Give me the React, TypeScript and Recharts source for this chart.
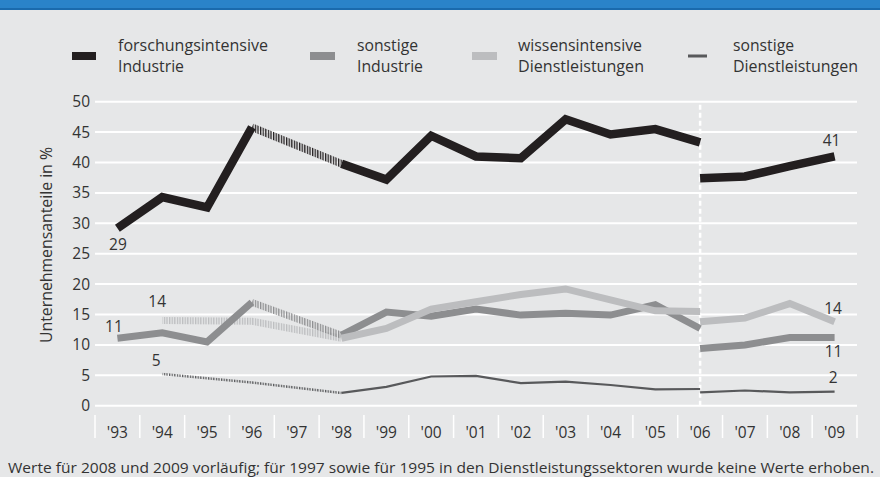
import React, { useEffect } from 'react';
import { LineChart, Line, XAxis, YAxis, CartesianGrid, ReferenceLine, LabelList } from 'recharts';

const years = ["'93", "'94", "'95", "'96", "'97", "'98", "'99", "'00", "'01", "'02", "'03", "'04", "'05", "'06", "'07", "'08", "'09"];
const yTicks = [0, 5, 10, 15, 20, 25, 30, 35, 40, 45, 50];

// values '93–'06 (old survey basis) and '06–'09 (new basis); null = not collected
const forschAlt = [29.2, 34.3, 32.6, 45.8, null, 39.8, 37.2, 44.4, 41.0, 40.7, 47.1, 44.6, 45.5, 43.3];
const forschNeu = [37.4, 37.7, 39.4, 41.0];
const sonstIndAlt = [11.1, 12.0, 10.5, 17.0, null, 11.6, 15.4, 14.7, 15.9, 14.9, 15.2, 14.9, 16.6, 12.7];
const sonstIndNeu = [9.4, 10.0, 11.2, 11.2];
const wissDlAlt = [null, 14.0, null, 13.9, null, 11.1, 12.7, 15.9, 17.1, 18.3, 19.2, 17.4, 15.6, 15.5];
const wissDlNeu = [13.8, 14.4, 16.8, 13.8];
const sonstDlAlt = [null, 5.2, null, 3.8, null, 2.1, 3.1, 4.8, 4.9, 3.7, 3.95, 3.4, 2.7, 2.75];
const sonstDlNeu = [2.2, 2.5, 2.2, 2.3];

const legendLine1 = ['forschungsintensive', 'sonstige', 'wissensintensive', 'sonstige'];
const legendLine2 = ['Industrie', 'Industrie', 'Dienstleistungen', 'Dienstleistungen'];
const footnote = 'Werte für 2008 und 2009 vorläufig; für 1997 sowie für 1995 in den Dienstleistungssektoren wurde keine Werte erhoben.';
const yTitle = 'Unternehmensanteile in %';

const BREAK = 13; // index of '06

const COL_BLACK = '#231f20';
const COL_DARK = '#8d8e90';
const COL_LIGHT = '#bcbdbf';
const COL_THIN = '#58595b';
const BG = '#e6e7e8';
const FONT = '"Open Sans", "Noto Sans", sans-serif';

function hatched(arr: (number | null)[]) {
  const valid = arr.map((v, i) => (v == null ? -1 : i)).filter((i) => i >= 0);
  const first = valid[0];
  const last = valid[valid.length - 1];
  return arr.map((v, i) => {
    if (v == null) return null;
    const prevGap = i - 1 >= first && arr[i - 1] == null;
    const nextGap = i + 1 <= last && arr[i + 1] == null;
    return prevGap || nextGap ? v : null;
  });
}

const series = [
  { key: 'fo', alt: forschAlt, neu: forschNeu },
  { key: 'si', alt: sonstIndAlt, neu: sonstIndNeu },
  { key: 'wd', alt: wissDlAlt, neu: wissDlNeu },
  { key: 'sd', alt: sonstDlAlt, neu: sonstDlNeu },
];

const data = years.map((y, i) => {
  const row: any = { idx: i, year: y };
  series.forEach((s) => {
    const h = hatched(s.alt);
    row[s.key + 'A'] = i <= BREAK ? s.alt[i] : null;
    row[s.key + 'N'] = i >= BREAK ? s.neu[i - BREAK] : null;
    row[s.key + 'H'] = i <= BREAK ? h[i] : null;
  });
  return row;
});

const PLOT_L = 95;
const PLOT_R = 857;
const BAND = (PLOT_R - PLOT_L) / years.length;

const XTick = (props: any) => {
  const { x, payload } = props;
  const i = payload.value;
  return (
    <g>
      <line x1={x - BAND / 2} x2={x - BAND / 2} y1={415} y2={438} stroke="#ffffff" strokeWidth={1.5} />
      {i === years.length - 1 && (
        <line x1={x + BAND / 2} x2={x + BAND / 2} y1={415} y2={438} stroke="#ffffff" strokeWidth={1.5} />
      )}
      <text x={x} y={438} textAnchor="middle" fill="#333333" fontSize={15.5} fontFamily={FONT}>
        {years[i]}
      </text>
    </g>
  );
};

const makeLabel = (showIdx: number, dx: number, dy: number) => (props: any) => {
  const { x, y, value, index } = props;
  if (index !== showIdx || value == null) return null;
  return (
    <text x={x + dx} y={y + dy} textAnchor="middle" fill="#333333" fontSize={15.5} fontFamily={FONT}>
      {Math.round(value)}
    </text>
  );
};

const legendSwatches = [
  { x: 72, w: 24, y: 52, h: 8, c: COL_BLACK, tx: 118, w1: 150, w2: 66 },
  { x: 310, w: 25, y: 52, h: 8, c: COL_DARK, tx: 357, w1: 61, w2: 66 },
  { x: 472, w: 25, y: 52, h: 8, c: COL_LIGHT, tx: 518, w1: 124, w2: 126 },
  { x: 688, w: 19, y: 54.5, h: 3, c: COL_THIN, tx: 733, w1: 61, w2: 125 },
];

export default function App() {
  useEffect(() => {
    document.documentElement.style.background = BG;
    document.body.style.background = BG;
    document.body.style.margin = '0';
    document.body.style.overflow = 'hidden';
  }, []);
  return (
    <div style={{ position: 'fixed', left: 0, top: 0, width: 880, height: 477, background: BG, overflow: 'hidden' }}>
      <svg width={880} height={477} style={{ position: 'absolute', left: 0, top: 0, display: 'block' }}>
        <rect x={0} y={0} width={880} height={8} fill="#2a83c9" />
        <rect x={0} y={8} width={880} height={2} fill="#1a6aad" />
      </svg>
      <div style={{ position: 'absolute', left: 0, top: 0 }}>
        <LineChart
          width={880}
          height={477}
          data={data}
          accessibilityLayer={false}
          style={{ outline: 'none' }}
          margin={{ top: 101.7, right: 23, bottom: 41.3, left: 0 }}
        >
          <defs>
            <pattern id="hBlack" patternUnits="userSpaceOnUse" width="2.6" height="10">
              <rect x="0" y="0" width="1.3" height="10" fill={COL_BLACK} />
            </pattern>
            <pattern id="hDark" patternUnits="userSpaceOnUse" width="2.6" height="10">
              <rect x="0" y="0" width="1.3" height="10" fill={COL_DARK} />
            </pattern>
            <pattern id="hLight" patternUnits="userSpaceOnUse" width="2.6" height="10">
              <rect x="0" y="0" width="1.3" height="10" fill={COL_LIGHT} />
            </pattern>
            <pattern id="hThin" patternUnits="userSpaceOnUse" width="2.6" height="10">
              <rect x="0" y="0" width="1.3" height="10" fill={COL_THIN} />
            </pattern>
          </defs>
          <CartesianGrid vertical={false} stroke="#ffffff" strokeWidth={2} />
          <XAxis
            dataKey="idx"
            type="number"
            domain={[-0.5, years.length - 0.5]}
            ticks={years.map((_, i) => i)}
            interval={0}
            height={30}
            axisLine={false}
            tickLine={false}
            tick={<XTick />}
          />
          <YAxis
            width={95}
            domain={[0, 50]}
            ticks={yTicks}
            axisLine={false}
            tickLine={false}
            tickSize={3}
            tickMargin={2}
            tick={{ fill: '#333333', fontSize: 15.5, fontFamily: FONT }}
          />
          <ReferenceLine x={BREAK} stroke="#ffffff" strokeWidth={2.5} strokeDasharray="5 3" />

          <Line dataKey="wdH" stroke="url(#hLight)" strokeWidth={7} dot={false} connectNulls isAnimationActive={false} strokeLinejoin="miter" strokeLinecap="butt">
            <LabelList dataKey="wdH" content={makeLabel(1, -5, -14)} />
          </Line>
          <Line dataKey="siH" stroke="url(#hDark)" strokeWidth={7} dot={false} connectNulls isAnimationActive={false} strokeLinejoin="miter" strokeLinecap="butt" />
          <Line dataKey="sdH" stroke="url(#hThin)" strokeWidth={2.5} dot={false} connectNulls isAnimationActive={false} strokeLinecap="butt">
            <LabelList dataKey="sdH" content={makeLabel(1, -6, -8)} />
          </Line>
          <Line dataKey="foH" stroke="url(#hBlack)" strokeWidth={7.5} dot={false} connectNulls isAnimationActive={false} strokeLinecap="butt" />

          <Line dataKey="siA" stroke={COL_DARK} strokeWidth={7} dot={false} isAnimationActive={false} strokeLinejoin="miter" strokeLinecap="butt">
            <LabelList dataKey="siA" content={makeLabel(0, -3.5, -6.5)} />
          </Line>
          <Line dataKey="siN" stroke={COL_DARK} strokeWidth={7} dot={false} isAnimationActive={false} strokeLinejoin="miter" strokeLinecap="butt">
            <LabelList dataKey="siN" content={makeLabel(16, -1, 19)} />
          </Line>
          <Line dataKey="wdA" stroke={COL_LIGHT} strokeWidth={7} dot={false} isAnimationActive={false} strokeLinejoin="miter" strokeLinecap="butt" />
          <Line dataKey="wdN" stroke={COL_LIGHT} strokeWidth={7} dot={false} isAnimationActive={false} strokeLinejoin="miter" strokeLinecap="butt">
            <LabelList dataKey="wdN" content={makeLabel(16, -1.5, -8)} />
          </Line>
          <Line dataKey="sdA" stroke={COL_THIN} strokeWidth={2.2} dot={false} isAnimationActive={false} strokeLinejoin="miter" strokeLinecap="butt" />
          <Line dataKey="sdN" stroke={COL_THIN} strokeWidth={2.2} dot={false} isAnimationActive={false} strokeLinejoin="miter" strokeLinecap="butt">
            <LabelList dataKey="sdN" content={makeLabel(16, -1.5, -9)} />
          </Line>
          <Line dataKey="foA" stroke={COL_BLACK} strokeWidth={8.5} dot={false} isAnimationActive={false} strokeLinejoin="miter" strokeLinecap="butt">
            <LabelList dataKey="foA" content={makeLabel(0, 0.5, 22)} />
          </Line>
          <Line dataKey="foN" stroke={COL_BLACK} strokeWidth={8.5} dot={false} isAnimationActive={false} strokeLinejoin="miter" strokeLinecap="butt">
            <LabelList dataKey="foN" content={makeLabel(16, -3, -10)} />
          </Line>
        </LineChart>
      </div>
      <svg width={880} height={477} style={{ position: 'absolute', left: 0, top: 0, pointerEvents: 'none' }}>
        {legendSwatches.map((s, i) => (
          <g key={i}>
            <rect x={s.x} y={s.y} width={s.w} height={s.h} fill={s.c} />
            <text x={s.tx} y={50.5} fill="#333333" fontSize={15.5} fontFamily={FONT} textLength={s.w1} lengthAdjust="spacingAndGlyphs">
              {legendLine1[i]}
            </text>
            <text x={s.tx} y={72} fill="#333333" fontSize={15.5} fontFamily={FONT} textLength={s.w2} lengthAdjust="spacingAndGlyphs">
              {legendLine2[i]}
            </text>
          </g>
        ))}
        <text
          x={51.5}
          y={245}
          transform="rotate(-90 51.5 245)"
          textAnchor="middle"
          fill="#333333"
          fontSize={15.5}
          fontFamily={FONT}
          textLength={196}
          lengthAdjust="spacingAndGlyphs"
        >
          {yTitle}
        </text>
        <text x={8} y={473} fill="#333333" fontSize={15} fontFamily={FONT} textLength={866} lengthAdjust="spacingAndGlyphs">
          {footnote}
        </text>
      </svg>
    </div>
  );
}
